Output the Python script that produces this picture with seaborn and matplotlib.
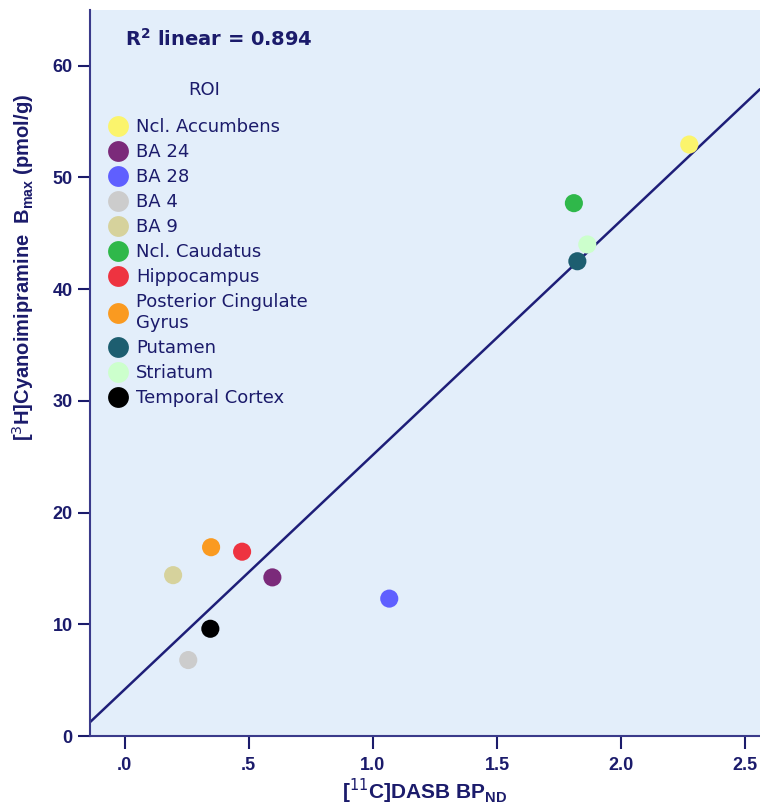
import numpy as np
import pandas as pd
import seaborn as sns
from matplotlib import pyplot as plt

# values
roi = ["Ncl. Accumbens", "BA 24", "BA 28", "BA 4", "BA 9", "Ncl. Caudatus",
       "Hippocampus", "Posterior Cingulate\nGyrus", "Putamen", "Striatum",
       "Temporal Cortex"]
dasb_bp = [2.275, 0.595, 1.066, 0.256, 0.195, 1.81, 0.473, 0.348, 1.824, 1.864, 0.345]
bmax = [52.95, 14.2, 12.3, 6.8, 14.4, 47.7, 16.5, 16.9, 42.5, 44.0, 9.6]
roi_colors = ["#FBF46C", "#7B2A7A", "#5F5FFF", "#CCCCCC", "#D6D29C", "#2FB84A",
              "#EE3340", "#FA9A20", "#1D5E70", "#CCFFCC", "#000000"]
x_ticks = [0, 0.5, 1.0, 1.5, 2.0, 2.5]
x_ticklabels = [".0", ".5", "1.0", "1.5", "2.0", "2.5"]
y_ticks = [0, 10, 20, 30, 40, 50, 60]

navy = "#1B1B6B"

df = pd.DataFrame({"roi": roi, "x": dasb_bp, "y": bmax})
pal = dict(zip(roi, roi_colors))

sns.set_style("ticks")
plt.rcParams["font.family"] = ["Liberation Sans", "DejaVu Sans"]

fig = plt.figure(figsize=(7.6, 8.05), dpi=100)
ax = fig.add_axes([0.1184, 0.0857, 0.8816, 0.902])
ax.set_facecolor("#E3EEFA")
ax.set_xlim(-0.14, 2.56)
ax.set_ylim(0, 65)

sns.regplot(data=df, x="x", y="y", scatter=False, ci=None, truncate=False,
            color="#1E1E78", line_kws={"lw": 1.8}, ax=ax)
sns.scatterplot(data=df, x="x", y="y", hue="roi", hue_order=roi, palette=pal,
                s=170, edgecolor="none", ax=ax, zorder=3)

ax.set_xticks(x_ticks)
ax.set_xticklabels(x_ticklabels)
ax.set_yticks(y_ticks)
ax.tick_params(axis="both", colors=navy, labelsize=13, length=9, width=1.5)
ax.tick_params(axis="x", pad=6)
for lab in ax.get_xticklabels() + ax.get_yticklabels():
    lab.set_fontweight("bold")

for side in ["top", "right"]:
    ax.spines[side].set_visible(False)
for side in ["left", "bottom"]:
    ax.spines[side].set_color("#3A3A8A")
    ax.spines[side].set_linewidth(1.5)

ax.set_xlabel(r"[$^{11}$C]DASB BP$_{\mathregular{ND}}$", fontsize=15,
              fontweight="bold", color=navy, labelpad=2)
ax.set_ylabel(r"[$^{3}$H]Cyanoimipramine  B$_{\mathregular{max}}$ (pmol/g)",
              fontsize=14.5, fontweight="bold", color=navy)
ax.yaxis.set_label_coords(-0.08, 0.645)

ax.text(0.052, 0.96, r"R$^{\mathregular{2}}$ linear = 0.894", transform=ax.transAxes,
        fontsize=14, fontweight="bold", color=navy, va="center",
        family=["DejaVu Sans"])

leg = ax.legend(title="ROI", loc="upper left", bbox_to_anchor=(-0.004, 0.92),
                frameon=False, prop={"family": "DejaVu Sans", "size": 13},
                title_fontsize=13, markerscale=1.15,
                handletextpad=0.0, labelspacing=0.39, borderaxespad=0.3)
leg._legend_box.align = "center"
leg._legend_box.sep = 14
leg.get_title().set_color(navy)
leg.get_title().set_family("DejaVu Sans")
for t in leg.get_texts():
    t.set_color(navy)

fig.savefig("out.png", dpi=100)
